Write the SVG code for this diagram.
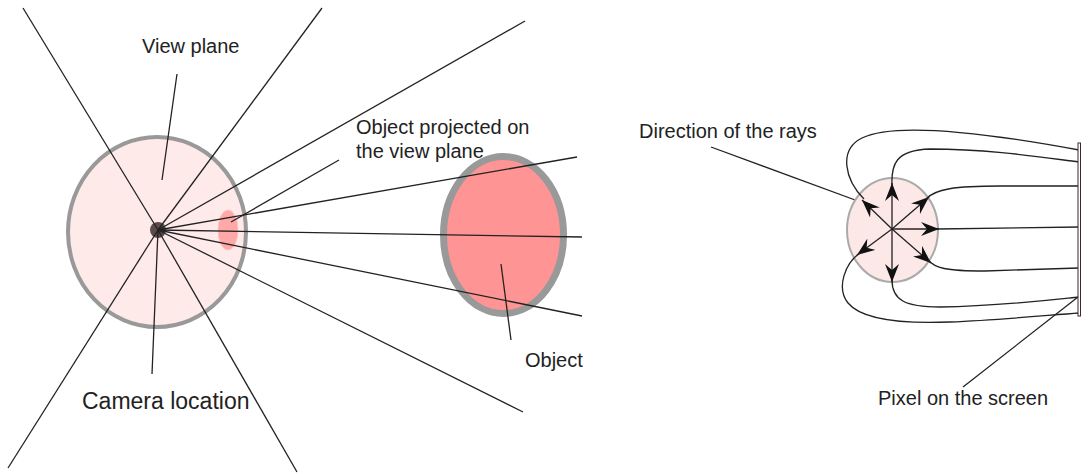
<svg xmlns="http://www.w3.org/2000/svg" width="1081" height="475" viewBox="0 0 1081 475">
<style>
.ln{stroke:#222;stroke-width:1.3;fill:none}
.lbl{font-family:"Liberation Sans",Arial,sans-serif;font-size:20px;fill:#222}
.ray{stroke:#222;stroke-width:1.3;fill:none;marker-end:url(#ah)}
</style>
<defs>
<marker id="ah" viewBox="0 0 18 14" markerWidth="18" markerHeight="14" refX="18" refY="7" orient="auto" markerUnits="userSpaceOnUse">
<path d="M0,0 L18,7 L0,14 L6,7 z" fill="#111"/>
</marker>
</defs>
<rect width="1081" height="475" fill="#fff"/>
<g id="view-plane">
<ellipse cx="157" cy="232" rx="89" ry="95" fill="#ffeaea" stroke="#999" stroke-width="4"/>
</g>
<g id="projection">
<ellipse cx="228" cy="230" rx="10" ry="20" fill="#ffa8a8" stroke="#ffc4c4" stroke-width="1"/>
</g>
<g id="object">
<ellipse cx="503.5" cy="235" rx="60" ry="78.5" fill="#ff9494" stroke="#999" stroke-width="7"/>
</g>
<g id="camera">
<circle cx="158" cy="230" r="8" fill="#5e4a4a"/>
</g>
<g id="connectors">
<line class="ln" x1="158" y1="230" x2="23" y2="8"/>
<line class="ln" x1="158" y1="230" x2="322" y2="8"/>
<line class="ln" x1="158" y1="230" x2="525" y2="21"/>
<line class="ln" x1="158" y1="230" x2="577" y2="157"/>
<line class="ln" x1="158" y1="230" x2="582" y2="237"/>
<line class="ln" x1="158" y1="230" x2="582" y2="316"/>
<line class="ln" x1="158" y1="230" x2="523" y2="412"/>
<line class="ln" x1="158" y1="230" x2="297" y2="472"/>
<line class="ln" x1="158" y1="230" x2="8" y2="468"/>
<line class="ln" x1="177" y1="74" x2="162" y2="180"/>
<line class="ln" x1="158" y1="230" x2="152" y2="374"/>
<line class="ln" x1="339" y1="160" x2="231" y2="222"/>
<line class="ln" x1="501" y1="264" x2="511" y2="340"/>
<line class="ln" x1="711" y1="147" x2="866" y2="204"/>
<line class="ln" x1="963" y1="387" x2="1078" y2="297"/>
</g>
<g id="ray-sphere">
<ellipse cx="892.5" cy="230" rx="45.5" ry="52" fill="#fde8e8" stroke="#aaa" stroke-width="2"/>
<line class="ray" x1="892" y1="229" x2="892" y2="183"/>
<line class="ray" x1="892" y1="229" x2="892" y2="282"/>
<line class="ray" x1="892" y1="229" x2="939" y2="229"/>
<line class="ray" x1="892" y1="229" x2="929" y2="197"/>
<line class="ray" x1="892" y1="229" x2="931" y2="263"/>
<line class="ray" x1="892" y1="229" x2="862" y2="200"/>
<line class="ray" x1="892" y1="229" x2="857" y2="255"/>
</g>
<g id="ray-paths">
<path class="ln" d="M864 199 C 845 180, 838 150, 862 138 C 890 124, 960 128, 1079 150"/>
<path class="ln" d="M892 186 C 891 165, 895 150, 930 149 C 990 149, 1040 157, 1079 162"/>
<path class="ln" d="M926 199 C 935 189, 955 186, 1000 186 L 1079 186"/>
<path class="ln" d="M938 229 L 1079 227"/>
<path class="ln" d="M928 260 C 935 268, 945 271, 985 271 L 1079 268"/>
<path class="ln" d="M892 280 C 892 300, 905 307, 940 307 C 1000 306, 1050 300, 1079 297"/>
<path class="ln" d="M860 253 C 845 263, 836 288, 848 303 C 862 320, 900 324, 950 322 C 1000 320, 1050 315, 1079 313"/>
</g>
<g id="screen">
<rect x="1078" y="143" width="2.5" height="173" fill="#fff" stroke="#3a2a2a" stroke-width="1"/>
</g>
<g id="labels">
<text class="lbl" x="142" y="53">View plane</text>
<text class="lbl" x="356" y="134">Object projected on</text>
<text class="lbl" x="356" y="158">the view plane</text>
<text class="lbl" x="525" y="367">Object</text>
<text class="lbl" x="82" y="409" style="font-size:23px">Camera location</text>
<text class="lbl" x="639" y="138">Direction of the rays</text>
<text class="lbl" x="878" y="405">Pixel on the screen</text>
</g>
</svg>
